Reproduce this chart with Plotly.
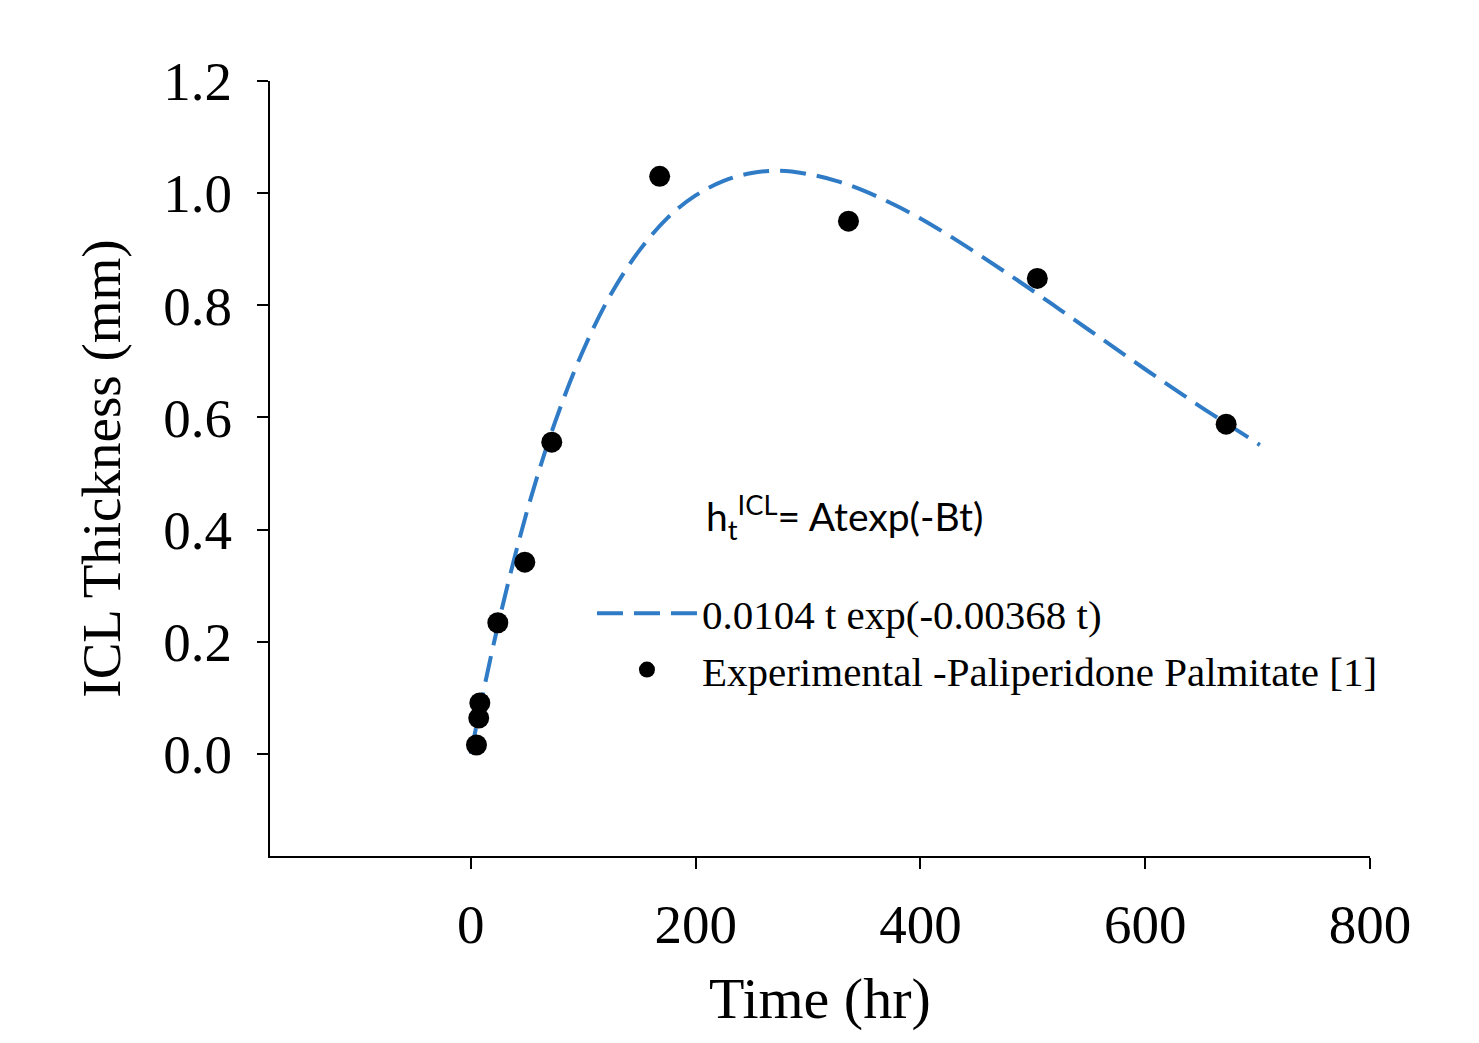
import plotly.graph_objects as go

exp_t = [5, 7, 8, 24, 48, 72, 168, 336, 504, 672]
exp_h = [0.016, 0.064, 0.091, 0.234, 0.342, 0.556, 1.03, 0.95, 0.848, 0.588]

# Fitted curve
fit_t = [0, 10, 25, 50, 75, 100, 125, 150, 175, 200, 225, 250, 275, 300, 325, 350,
         375, 400, 425, 450, 475, 500, 525, 550, 575, 600, 625, 650, 675, 702]
fit_h = [0.0, 0.100, 0.237, 0.433, 0.592, 0.720, 0.821, 0.898, 0.956, 0.996, 1.022,
         1.036, 1.040, 1.034, 1.022, 1.004, 0.981, 0.955, 0.925, 0.893, 0.860, 0.826,
         0.791, 0.756, 0.721, 0.686, 0.652, 0.618, 0.586, 0.551]

x_ticks = [0, 200, 400, 600, 800]
y_ticks = [0.0, 0.2, 0.4, 0.6, 0.8, 1.0, 1.2]

serif = "Liberation Serif"

fig = go.Figure()
fig.add_trace(go.Scatter(
    x=fit_t, y=fit_h, mode="lines", line_shape="spline",
    name="0.0104 t exp(-0.00368 t)",
    line=dict(color="#2F7BC6", width=4, dash="26px,11px"),
))
fig.add_trace(go.Scatter(
    x=exp_t, y=exp_h, mode="markers",
    name="Experimental -Paliperidone Palmitate [1]",
    marker=dict(color="black", size=21, line=dict(width=0)),
))

fig.add_annotation(
    x=207, y=0.4225, xref="x", yref="y", xanchor="left", yanchor="middle",
    text="h<sub>t</sub><sup>ICL</sup>= Atexp(-Bt)", showarrow=False,
    font=dict(family="Lato", size=39, color="black"),
)

# x-axis title
fig.add_annotation(
    x=0.5, y=-0.184, xref="paper", yref="paper", xanchor="center", yanchor="middle",
    text="Time (hr)", showarrow=False,
    font=dict(family=serif, size=58, color="black"),
)

fig.update_layout(
    width=1463, height=1027,
    margin=dict(l=262, r=101, t=73, b=179),
    plot_bgcolor="white", paper_bgcolor="white",
    font=dict(family=serif, color="black"),
    showlegend=True,
    legend=dict(
        x=0.2927, y=0.356, xanchor="left", yanchor="top",
        bgcolor="rgba(0,0,0,0)", font=dict(family=serif, size=41, color="black"),
        itemwidth=100, tracegroupgap=0,
    ),
    xaxis=dict(
        range=[-178.7, 800], tickvals=x_ticks, ticktext=[str(v) for v in x_ticks],
        showline=True, linecolor="black", linewidth=2,
        ticks="outside", ticklen=11, tickwidth=2, tickcolor="black",
        showgrid=False, zeroline=False,
        tickfont=dict(family=serif, size=55, color="black"),
        ticklabelstandoff=8,
        automargin=False,
    ),
    yaxis=dict(
        range=[-0.182, 1.2], tickvals=y_ticks, ticktext=[f"{v:.1f}" for v in y_ticks],
        showline=True, linecolor="black", linewidth=2,
        ticks="outside", ticklen=11, tickwidth=2, tickcolor="black",
        showgrid=False, zeroline=False,
        tickfont=dict(family=serif, size=55, color="black"),
        ticklabelstandoff=14,
        title=dict(text="ICL Thickness (mm)", font=dict(family=serif, size=55, color="black"), standoff=25),
        automargin=False,
    ),
)

fig.write_html("out.html")
